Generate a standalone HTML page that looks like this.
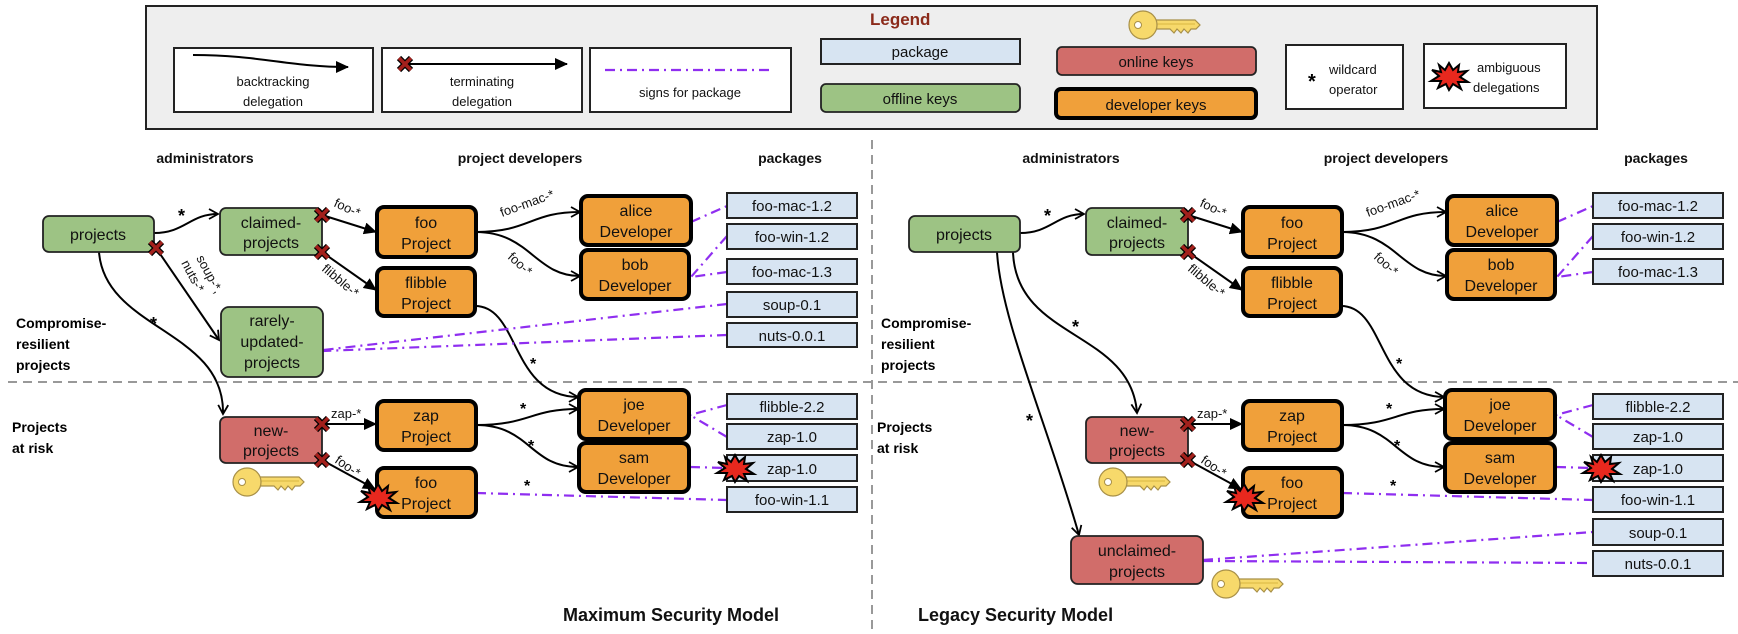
<!DOCTYPE html>
<html><head><meta charset="utf-8"><style>
html,body{margin:0;padding:0;background:#fff;}
svg{display:block;font-family:"Liberation Sans",Arial,sans-serif;}
.n{font-size:16px;fill:#111;text-anchor:middle;}
.p{font-size:15px;fill:#111;text-anchor:middle;}
.h{font-size:14px;font-weight:bold;fill:#111;text-anchor:middle;}
.lb{font-size:13px;fill:#111;}
.st{font-size:18px;font-weight:bold;fill:#111;}
.g{fill:#9dc384;stroke:#222;stroke-width:1.8;}
.r{fill:#d16d6a;stroke:#222;stroke-width:1.8;}
.o{fill:#f0a03a;stroke:#000;stroke-width:4;}
.b{fill:#d7e4f2;stroke:#222;stroke-width:2;}
.e{fill:none;stroke:#000;stroke-width:2;}
.pu{fill:none;stroke:#8f2ef0;stroke-width:2.2;stroke-dasharray:10,5,2,5;}
</style></head><body>
<svg width="1738" height="634" viewBox="0 0 1738 634" xmlns="http://www.w3.org/2000/svg">
<defs>
<marker id="v" markerWidth="12" markerHeight="12" refX="10" refY="6" orient="auto" markerUnits="userSpaceOnUse"><path d="M1,1 L10,6 L1,11" fill="none" stroke="#000" stroke-width="1.8"/></marker>
<marker id="t" markerWidth="14" markerHeight="12" refX="12" refY="6" orient="auto" markerUnits="userSpaceOnUse"><path d="M0,0 L13,6 L0,12 z" fill="#000"/></marker>
<g id="k"><path d="M10,-5 L52,-5 L57,0 L53,4 L48,4 L45,8 L41,4 L38,8 L34,4 L31,8 L27,4 L10,4" fill="#f7d96b" stroke="#a89048" stroke-width="1.2"/><path d="M14,-1 L52,-1" stroke="#d9b840" stroke-width="1"/><circle r="14" fill="#f7d96b" stroke="#a89048" stroke-width="1.2"/><circle cx="-5" r="3.5" fill="#fff" stroke="#a89048" stroke-width="1"/></g>
<g id="x"><path d="M-6,-6 L6,6 M6,-6 L-6,6" stroke="#000" stroke-width="6"/><path d="M-6,-6 L6,6 M6,-6 L-6,6" stroke="#a3201c" stroke-width="3.5"/></g>
<g id="bu"><polygon points="0,-13 4,-6 10,-11 9,-4 18,-5 11,1 19,6 9,6 12,13 4,8 0,14 -3,8 -11,12 -8,5 -18,5 -10,0 -17,-6 -8,-4 -10,-11 -4,-6" fill="#e8281e" stroke="#000" stroke-width="2"/></g>
</defs>

<!-- Legend -->
<rect x="146" y="6" width="1451" height="123" fill="#eee" stroke="#222" stroke-width="2"/>
<text x="870" y="25" style="font-size:17px;font-weight:bold;fill:#8b2a1a">Legend</text>
<rect x="174" y="48" width="199" height="64" fill="#fff" stroke="#222" stroke-width="2"/>
<path d="M193,55 C260,55 290,67 348,67" class="e" marker-end="url(#t)"/>
<text x="273" y="86" class="lb" text-anchor="middle">backtracking</text>
<text x="273" y="106" class="lb" text-anchor="middle">delegation</text>
<rect x="382" y="48" width="200" height="64" fill="#fff" stroke="#222" stroke-width="2"/>
<path d="M405,64 L567,64" class="e" marker-end="url(#t)"/>
<use href="#x" x="405" y="64"/>
<text x="482" y="86" class="lb" text-anchor="middle">terminating</text>
<text x="482" y="106" class="lb" text-anchor="middle">delegation</text>
<rect x="590" y="48" width="201" height="64" fill="#fff" stroke="#222" stroke-width="2"/>
<path d="M605,70 L774,70" class="pu"/>
<text x="690" y="97" class="lb" text-anchor="middle">signs for package</text>
<rect x="821" y="39" width="199" height="25" class="b"/>
<text x="920" y="57" class="p">package</text>
<rect x="821" y="84" width="199" height="28" rx="5" class="g"/>
<text x="920" y="104" class="p">offline keys</text>
<use href="#k" x="1143" y="25"/>
<rect x="1057" y="47" width="199" height="28" rx="5" class="r"/>
<text x="1156" y="67" class="p">online keys</text>
<rect x="1056" y="89" width="200" height="29" rx="5" class="o"/>
<text x="1156" y="110" class="p">developer keys</text>
<rect x="1286" y="45" width="117" height="64" fill="#fff" stroke="#222" stroke-width="2"/>
<text x="1308" y="88" style="font-size:20px;font-weight:bold">*</text>
<text x="1329" y="74" class="lb">wildcard</text>
<text x="1329" y="94" class="lb">operator</text>
<rect x="1424" y="44" width="142" height="64" fill="#fff" stroke="#222" stroke-width="2"/>
<use href="#bu" x="1449" y="76" transform="scale(1)"/>
<text x="1477" y="72" class="lb">ambiguous</text>
<text x="1473" y="92" class="lb">delegations</text>

<!-- dividers -->
<path d="M8,382 L1738,382" stroke="#999" stroke-width="2" stroke-dasharray="9,6"/>
<path d="M872,140 L872,634" stroke="#999" stroke-width="2" stroke-dasharray="9,6"/>

<!-- LEFT -->
<g>
<text x="205" y="163" class="h">administrators</text>
<text x="520" y="163" class="h">project developers</text>
<text x="790" y="163" class="h">packages</text>
<text x="16" y="328" style="font-size:14px;font-weight:bold">Compromise-</text>
<text x="16" y="349" style="font-size:14px;font-weight:bold">resilient</text>
<text x="16" y="370" style="font-size:14px;font-weight:bold">projects</text>
<text x="12" y="432" style="font-size:14px;font-weight:bold">Projects</text>
<text x="12" y="453" style="font-size:14px;font-weight:bold">at risk</text>
<text x="563" y="621" class="st">Maximum Security Model</text>

<!-- edges -->
<path d="M154,233 C185,233 190,214 218,214" class="e" marker-end="url(#v)"/>
<text x="178" y="222" style="font-size:18px;font-weight:bold">*</text>
<path d="M156,248 L219,340" class="e" marker-end="url(#v)"/>
<text transform="translate(196,258) rotate(62)" class="lb">soup-*,</text>
<text transform="translate(181,263) rotate(62)" class="lb">nuts-*</text>
<path d="M99,252 C105,330 225,330 223,414" class="e" marker-end="url(#v)"/>
<text x="150" y="330" style="font-size:18px;font-weight:bold">*</text>
<path d="M322,215 L376,232" class="e" marker-end="url(#t)"/>
<text transform="translate(333,206) rotate(25)" class="lb">foo-*</text>
<path d="M322,252 L376,290" class="e" marker-end="url(#t)"/>
<text transform="translate(321,270) rotate(40)" class="lb">flibble-*</text>
<path d="M476,232 C530,232 530,212 580,212" class="e" marker-end="url(#v)"/>
<text transform="translate(502,217) rotate(-20)" class="lb">foo-mac-*</text>
<path d="M476,232 C530,232 535,276 580,276" class="e" marker-end="url(#v)"/>
<text transform="translate(507,258) rotate(42)" class="lb">foo-*</text>
<path d="M475,306 C520,306 510,396 578,397" class="e" marker-end="url(#v)"/>
<text x="530" y="369" style="font-size:16px;font-weight:bold">*</text>
<path d="M476,425 C530,425 530,409 578,409" class="e" marker-end="url(#v)"/>
<text x="520" y="414" style="font-size:16px;font-weight:bold">*</text>
<path d="M476,425 C530,425 530,467 578,467" class="e" marker-end="url(#v)"/>
<text x="528" y="451" style="font-size:16px;font-weight:bold">*</text>
<path d="M322,424 L376,424" class="e" marker-end="url(#t)"/>
<text x="331" y="418" class="lb">zap-*</text>
<path d="M322,460 L375,489" class="e" marker-end="url(#t)"/>
<text transform="translate(334,462) rotate(35)" class="lb">foo-*</text>
<text x="524" y="491" style="font-size:16px;font-weight:bold">*</text>

<!-- purple -->
<path d="M691,222 L727,206" class="pu"/>
<path d="M727,236 L691,277" class="pu"/>
<path d="M727,272 L691,277" class="pu"/>
<path d="M727,304 L323,350" class="pu"/>
<path d="M727,335 L323,351" class="pu"/>
<path d="M727,405 L690,415" class="pu"/>
<path d="M727,437 L690,415" class="pu"/>
<path d="M690,467 L727,468" class="pu"/>
<path d="M476,493 L727,500" class="pu"/>

<!-- nodes -->
<rect x="43" y="216" width="111" height="36" rx="6" class="g"/><text x="98" y="240" class="n">projects</text>
<rect x="220" y="208" width="102" height="47" rx="6" class="g"/><text x="271" y="228" class="n">claimed-</text><text x="271" y="248" class="n">projects</text>
<rect x="221" y="307" width="102" height="70" rx="8" class="g"/><text x="272" y="326" class="n">rarely-</text><text x="272" y="347" class="n">updated-</text><text x="272" y="368" class="n">projects</text>
<rect x="220" y="417" width="102" height="46" rx="6" class="r"/><text x="271" y="436" class="n">new-</text><text x="271" y="456" class="n">projects</text>
<use href="#k" x="247" y="482"/>
<rect x="377" y="207" width="99" height="50" rx="7" class="o"/><text x="426" y="228" class="n">foo</text><text x="426" y="249" class="n">Project</text>
<rect x="377" y="268" width="98" height="48" rx="7" class="o"/><text x="426" y="288" class="n">flibble</text><text x="426" y="309" class="n">Project</text>
<rect x="377" y="401" width="99" height="49" rx="7" class="o"/><text x="426" y="421" class="n">zap</text><text x="426" y="442" class="n">Project</text>
<rect x="377" y="468" width="99" height="49" rx="7" class="o"/><text x="426" y="488" class="n">foo</text><text x="426" y="509" class="n">Project</text>
<use href="#bu" x="378" y="497"/>
<rect x="581" y="196" width="110" height="49" rx="7" class="o"/><text x="636" y="216" class="n">alice</text><text x="636" y="237" class="n">Developer</text>
<rect x="581" y="250" width="108" height="49" rx="7" class="o"/><text x="635" y="270" class="n">bob</text><text x="635" y="291" class="n">Developer</text>
<rect x="579" y="390" width="110" height="49" rx="7" class="o"/><text x="634" y="410" class="n">joe</text><text x="634" y="431" class="n">Developer</text>
<rect x="579" y="443" width="110" height="49" rx="7" class="o"/><text x="634" y="463" class="n">sam</text><text x="634" y="484" class="n">Developer</text>
<rect x="727" y="193" width="130" height="25" class="b"/><text x="792" y="211" class="p">foo-mac-1.2</text>
<rect x="727" y="224" width="130" height="25" class="b"/><text x="792" y="242" class="p">foo-win-1.2</text>
<rect x="727" y="259" width="130" height="25" class="b"/><text x="792" y="277" class="p">foo-mac-1.3</text>
<rect x="727" y="292" width="130" height="25" class="b"/><text x="792" y="310" class="p">soup-0.1</text>
<rect x="727" y="323" width="130" height="24" class="b"/><text x="792" y="341" class="p">nuts-0.0.1</text>
<rect x="727" y="394" width="130" height="25" class="b"/><text x="792" y="412" class="p">flibble-2.2</text>
<rect x="727" y="424" width="130" height="25" class="b"/><text x="792" y="442" class="p">zap-1.0</text>
<rect x="727" y="455" width="130" height="26" class="b"/><text x="792" y="474" class="p">zap-1.0</text>
<use href="#bu" x="735" y="468"/>
<rect x="727" y="487" width="130" height="25" class="b"/><text x="792" y="505" class="p">foo-win-1.1</text>
<use href="#x" x="156" y="248"/>
<use href="#x" x="322" y="215"/>
<use href="#x" x="322" y="252"/>
<use href="#x" x="322" y="424"/>
<use href="#x" x="322" y="460"/>
</g>

<!-- RIGHT -->
<g transform="translate(866,0)">
<text x="205" y="163" class="h">administrators</text>
<text x="520" y="163" class="h">project developers</text>
<text x="790" y="163" class="h">packages</text>
<text x="15" y="328" style="font-size:14px;font-weight:bold">Compromise-</text>
<text x="15" y="349" style="font-size:14px;font-weight:bold">resilient</text>
<text x="15" y="370" style="font-size:14px;font-weight:bold">projects</text>
<text x="11" y="432" style="font-size:14px;font-weight:bold">Projects</text>
<text x="11" y="453" style="font-size:14px;font-weight:bold">at risk</text>
<text x="52" y="621" class="st">Legacy Security Model</text>

<path d="M154,233 C185,233 190,214 218,214" class="e" marker-end="url(#v)"/>
<text x="178" y="222" style="font-size:18px;font-weight:bold">*</text>
<path d="M147,252 C150,340 265,330 271,413" class="e" marker-end="url(#v)"/>
<text x="206" y="333" style="font-size:18px;font-weight:bold">*</text>
<path d="M131,252 C135,320 180,420 213,535" class="e" marker-end="url(#v)"/>
<text x="160" y="427" style="font-size:18px;font-weight:bold">*</text>
<path d="M322,215 L376,232" class="e" marker-end="url(#t)"/>
<text transform="translate(333,206) rotate(25)" class="lb">foo-*</text>
<path d="M322,252 L376,290" class="e" marker-end="url(#t)"/>
<text transform="translate(321,270) rotate(40)" class="lb">flibble-*</text>
<path d="M476,232 C530,232 530,212 580,212" class="e" marker-end="url(#v)"/>
<text transform="translate(502,217) rotate(-20)" class="lb">foo-mac-*</text>
<path d="M476,232 C530,232 535,276 580,276" class="e" marker-end="url(#v)"/>
<text transform="translate(507,258) rotate(42)" class="lb">foo-*</text>
<path d="M475,306 C520,306 510,396 578,397" class="e" marker-end="url(#v)"/>
<text x="530" y="369" style="font-size:16px;font-weight:bold">*</text>
<path d="M476,425 C530,425 530,409 578,409" class="e" marker-end="url(#v)"/>
<text x="520" y="414" style="font-size:16px;font-weight:bold">*</text>
<path d="M476,425 C530,425 530,467 578,467" class="e" marker-end="url(#v)"/>
<text x="528" y="451" style="font-size:16px;font-weight:bold">*</text>
<path d="M322,424 L376,424" class="e" marker-end="url(#t)"/>
<text x="331" y="418" class="lb">zap-*</text>
<path d="M322,460 L375,489" class="e" marker-end="url(#t)"/>
<text transform="translate(334,462) rotate(35)" class="lb">foo-*</text>
<text x="524" y="491" style="font-size:16px;font-weight:bold">*</text>

<path d="M691,222 L727,206" class="pu"/>
<path d="M727,236 L691,277" class="pu"/>
<path d="M727,272 L691,277" class="pu"/>
<path d="M727,405 L690,415" class="pu"/>
<path d="M727,437 L690,415" class="pu"/>
<path d="M690,467 L727,468" class="pu"/>
<path d="M476,493 L727,500" class="pu"/>
<path d="M337,560 L727,532" class="pu"/>
<path d="M337,561 L727,563" class="pu"/>

<rect x="43" y="216" width="111" height="36" rx="6" class="g"/><text x="98" y="240" class="n">projects</text>
<rect x="220" y="208" width="102" height="47" rx="6" class="g"/><text x="271" y="228" class="n">claimed-</text><text x="271" y="248" class="n">projects</text>
<rect x="220" y="417" width="102" height="46" rx="6" class="r"/><text x="271" y="436" class="n">new-</text><text x="271" y="456" class="n">projects</text>
<use href="#k" x="247" y="482"/>
<rect x="205" y="536" width="132" height="48" rx="7" class="r"/><text x="271" y="556" class="n">unclaimed-</text><text x="271" y="577" class="n">projects</text>
<use href="#k" x="360" y="584"/>
<rect x="377" y="207" width="99" height="50" rx="7" class="o"/><text x="426" y="228" class="n">foo</text><text x="426" y="249" class="n">Project</text>
<rect x="377" y="268" width="98" height="48" rx="7" class="o"/><text x="426" y="288" class="n">flibble</text><text x="426" y="309" class="n">Project</text>
<rect x="377" y="401" width="99" height="49" rx="7" class="o"/><text x="426" y="421" class="n">zap</text><text x="426" y="442" class="n">Project</text>
<rect x="377" y="468" width="99" height="49" rx="7" class="o"/><text x="426" y="488" class="n">foo</text><text x="426" y="509" class="n">Project</text>
<use href="#bu" x="378" y="497"/>
<rect x="581" y="196" width="110" height="49" rx="7" class="o"/><text x="636" y="216" class="n">alice</text><text x="636" y="237" class="n">Developer</text>
<rect x="581" y="250" width="108" height="49" rx="7" class="o"/><text x="635" y="270" class="n">bob</text><text x="635" y="291" class="n">Developer</text>
<rect x="579" y="390" width="110" height="49" rx="7" class="o"/><text x="634" y="410" class="n">joe</text><text x="634" y="431" class="n">Developer</text>
<rect x="579" y="443" width="110" height="49" rx="7" class="o"/><text x="634" y="463" class="n">sam</text><text x="634" y="484" class="n">Developer</text>
<rect x="727" y="193" width="130" height="25" class="b"/><text x="792" y="211" class="p">foo-mac-1.2</text>
<rect x="727" y="224" width="130" height="25" class="b"/><text x="792" y="242" class="p">foo-win-1.2</text>
<rect x="727" y="259" width="130" height="25" class="b"/><text x="792" y="277" class="p">foo-mac-1.3</text>
<rect x="727" y="394" width="130" height="25" class="b"/><text x="792" y="412" class="p">flibble-2.2</text>
<rect x="727" y="424" width="130" height="25" class="b"/><text x="792" y="442" class="p">zap-1.0</text>
<rect x="727" y="455" width="130" height="26" class="b"/><text x="792" y="474" class="p">zap-1.0</text>
<use href="#bu" x="735" y="468"/>
<rect x="727" y="487" width="130" height="25" class="b"/><text x="792" y="505" class="p">foo-win-1.1</text>
<rect x="727" y="519" width="130" height="26" class="b"/><text x="792" y="538" class="p">soup-0.1</text>
<rect x="727" y="551" width="130" height="25" class="b"/><text x="792" y="569" class="p">nuts-0.0.1</text>
<use href="#x" x="322" y="215"/>
<use href="#x" x="322" y="252"/>
<use href="#x" x="322" y="424"/>
<use href="#x" x="322" y="460"/>
</g>
</svg>
</body></html>
